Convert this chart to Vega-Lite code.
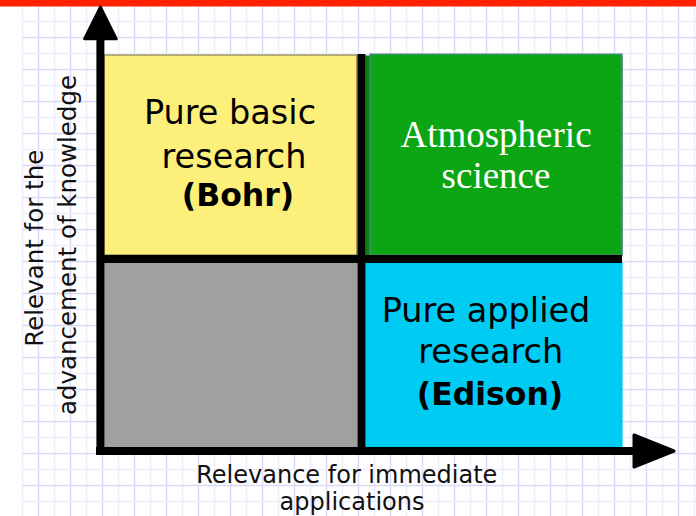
{
  "$schema": "https://vega.github.io/schema/vega-lite/v6.json",
  "width": 674,
  "height": 516,
  "autosize": {"type": "none"},
  "padding": {"left": 22, "top": 0, "right": 0, "bottom": 0},
  "background": "white",
  "config": {"view": {"stroke": null}},
  "datasets": {
    "areas": [
      {"part": "title bar", "x": -1.375, "x2": 42.125, "y": 31.94, "y2": 32.3125},
      {"part": "basic", "x": 5.125, "x2": 20.9375, "y": 16.375, "y2": 28.875},
      {"part": "use-inspired shadow", "x": 21.5, "x2": 37.5, "y": 16.375, "y2": 28.8125},
      {"part": "use-inspired", "x": 21.75, "x2": 37.5, "y": 16.375, "y2": 28.9375},
      {"part": "neither", "x": 5.125, "x2": 20.9375, "y": 4.375, "y2": 15.875},
      {"part": "applied", "x": 21.5, "x2": 37.5, "y": 4.375, "y2": 15.875}
    ],
    "lines": [
      {"part": "y axis", "x": 4.9, "x2": 4.9, "y": 3.875, "y2": 29.8125},
      {"part": "x axis", "x": 4.625, "x2": 38.25, "y": 4.125, "y2": 4.125},
      {"part": "vertical divider", "x": 21.22, "x2": 21.22, "y": 4.125, "y2": 28.94},
      {"part": "horizontal divider", "x": 4.9, "x2": 37.5, "y": 16.125, "y2": 16.125}
    ],
    "arrows": [
      {"part": "y arrow", "x": 4.9, "y": 30.875},
      {"part": "x arrow", "x": 39.5, "y": 4.125}
    ],
    "labels": [
      {"text": "Pure basic", "x": 13.0, "y": 24.5625, "kind": "quadrant"},
      {"text": "research", "x": 13.25, "y": 21.8125, "kind": "quadrant"},
      {"text": "(Bohr)", "x": 13.5, "y": 19.4375, "kind": "quadrant bold"},
      {"text": "Atmospheric", "x": 29.625, "y": 23.125, "kind": "serif"},
      {"text": "science", "x": 29.625, "y": 20.5625, "kind": "serif"},
      {"text": "Pure applied", "x": 29.0, "y": 12.1875, "kind": "quadrant"},
      {"text": "research", "x": 29.3, "y": 9.625, "kind": "quadrant"},
      {"text": "(Edison)", "x": 29.25, "y": 7.0, "kind": "quadrant bold"},
      {"text": "Relevance for immediate", "x": 20.3, "y": 2.15, "kind": "x title"},
      {"text": "applications", "x": 20.625, "y": 0.44, "kind": "x title"},
      {"text": "Relevant for the", "x": 1.3125, "y": 16.8, "kind": "y title"},
      {"text": "advancement of knowledge", "x": 3.375, "y": 17.0, "kind": "y title"}
    ]
  },
  "encoding": {
    "x": {
      "field": "x", "type": "quantitative",
      "scale": {"domain": [0, 42.125], "nice": false, "zero": false},
      "axis": {
        "values": [0,1,2,3,4,5,6,7,8,9,10,11,12,13,14,15,16,17,18,19,20,21,22,23,24,25,26,27,28,29,30,31,32,33,34,35,36,37,38,39,40,41,42],
        "grid": true,
        "gridColor": {"condition": {"test": "datum.value % 2 === 1", "value": "#d9d9f7"}, "value": "#ededfb"},
        "gridWidth": 1.5,
        "labels": false, "ticks": false, "domain": false, "title": null
      }
    },
    "y": {
      "field": "y", "type": "quantitative",
      "scale": {"domain": [0.0625, 32.3125], "nice": false, "zero": false},
      "axis": {
        "values": [1,2,3,4,5,6,7,8,9,10,11,12,13,14,15,16,17,18,19,20,21,22,23,24,25,26,27,28,29,30,31],
        "grid": true,
        "gridColor": {"condition": {"test": "datum.value % 2 === 0", "value": "#d9d9f7"}, "value": "#ededfb"},
        "gridWidth": 1.5,
        "labels": false, "ticks": false, "domain": false, "title": null
      }
    }
  },
  "layer": [
    {
      "data": {"name": "areas"},
      "mark": {"type": "rect", "strokeWidth": 1.2},
      "encoding": {
        "x2": {"field": "x2"},
        "y2": {"field": "y2"},
        "fill": {
          "field": "part", "type": "nominal", "legend": null,
          "scale": {
            "domain": ["title bar", "basic", "use-inspired shadow", "use-inspired", "neither", "applied"],
            "range": ["#ff2200", "#fdf07a", "#0a7f12", "#0ca614", "#a0a0a0", "#00cbf3"]
          }
        },
        "stroke": {
          "field": "part", "type": "nominal", "legend": null,
          "scale": {
            "domain": ["title bar", "basic", "use-inspired shadow", "use-inspired", "neither", "applied"],
            "range": ["#ff2200", "#6b6640", "#0a7f12", "#5b80a8", "#a0a0a0", "#00cbf3"]
          }
        }
      }
    },
    {
      "data": {"name": "lines"},
      "mark": {"type": "rule", "color": "black", "strokeCap": "butt"},
      "encoding": {
        "x2": {"field": "x2"},
        "y2": {"field": "y2"},
        "strokeWidth": {
          "field": "part", "type": "nominal", "legend": null,
          "scale": {
            "domain": ["y axis", "x axis", "vertical divider", "horizontal divider"],
            "range": [8, 8, 9, 8]
          }
        }
      }
    },
    {
      "data": {"name": "arrows"},
      "mark": {"type": "point", "filled": true, "fill": "black", "stroke": "black", "strokeWidth": 3, "strokeJoin": "round", "opacity": 1},
      "encoding": {
        "shape": {
          "field": "part", "type": "nominal", "legend": null,
          "scale": {"domain": ["y arrow", "x arrow"], "range": ["M0,-1L1,1L-1,1Z", "M1,0L-1,-0.8L-1,0.8Z"]}
        },
        "size": {
          "field": "part", "type": "ordinal", "legend": null,
          "scale": {"domain": ["y arrow", "x arrow"], "range": [1000, 1600]}
        }
      }
    },
    {
      "data": {"name": "labels"},
      "transform": [{"filter": "datum.kind === 'quadrant'"}],
      "mark": {"type": "text", "font": "DejaVu Sans", "fontSize": 33.5, "color": "black", "align": "center", "baseline": "alphabetic"},
      "encoding": {"text": {"field": "text"}}
    },
    {
      "data": {"name": "labels"},
      "transform": [{"filter": "datum.kind === 'quadrant bold'"}],
      "mark": {"type": "text", "font": "DejaVu Sans", "fontWeight": "bold", "fontSize": 31.5, "color": "black", "align": "center", "baseline": "alphabetic"},
      "encoding": {"text": {"field": "text"}}
    },
    {
      "data": {"name": "labels"},
      "transform": [{"filter": "datum.kind === 'serif'"}],
      "mark": {"type": "text", "font": "Liberation Serif", "fontSize": 37, "color": "white", "align": "center", "baseline": "alphabetic"},
      "encoding": {"text": {"field": "text"}}
    },
    {
      "data": {"name": "labels"},
      "transform": [{"filter": "datum.kind === 'x title'"}],
      "mark": {"type": "text", "font": "DejaVu Sans", "fontSize": 24, "color": "#111111", "align": "center", "baseline": "alphabetic"},
      "encoding": {"text": {"field": "text"}}
    },
    {
      "data": {"name": "labels"},
      "transform": [{"filter": "datum.kind === 'y title'"}],
      "mark": {"type": "text", "font": "DejaVu Sans", "fontSize": 24.5, "angle": 270, "color": "#111111", "align": "center", "baseline": "alphabetic"},
      "encoding": {"text": {"field": "text"}}
    }
  ]
}
